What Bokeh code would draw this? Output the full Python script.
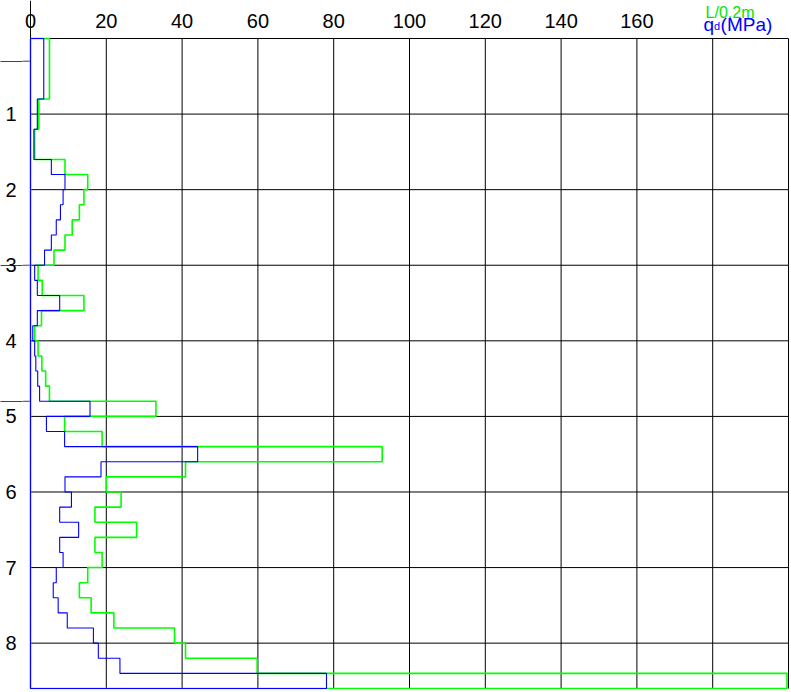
from bokeh.plotting import figure
from bokeh.models import FixedTicker, Range1d
from bokeh.core.properties import value
from bokeh.embed import file_html
from bokeh.resources import INLINE

# ---- data (0.2 m intervals from 0.0 m to 8.6 m) ----
interval = 0.2
max_depth = 8.6
blow_count = [5.0, 5.0, 5.0, 5.0, 2.2, 2.2, 1.1, 1.1, 9.1, 15.1,
              14.1, 12.9, 11.0, 9.1, 6.2, 2.0, 3.1, 14.1, 2.9, 1.1,
              2.0, 3.0, 4.0, 5.0, 33.1, 9.0, 18.9, 92.8, 40.9, 20.0,
              23.9, 17.0, 28.0, 17.0, 18.9, 15.1, 12.9, 16.0, 22.0, 38.0,
              40.9, 59.8, 199.6]
qd_mpa = [3.5, 3.5, 3.5, 3.5, 1.8, 1.8, 0.9, 0.9, 5.5, 9.1,
          8.6, 7.9, 6.8, 5.5, 3.7, 1.1, 1.8, 7.7, 1.8, 0.6,
          1.1, 1.4, 1.9, 2.4, 15.7, 4.2, 9.0, 44.1, 18.6, 9.1,
          10.8, 7.7, 12.7, 7.7, 8.6, 6.8, 6.0, 7.3, 9.7, 16.6,
          17.9, 23.6, 78.1]
layer_bounds = [0.3, 3.0, 4.8]
x_ticks = [0, 20, 40, 60, 80, 100, 120, 140, 160]
x_grid = [0, 20, 40, 60, 80, 100, 120, 140, 160, 180, 200]
y_ticks = [1, 2, 3, 4, 5, 6, 7, 8]
y_grid = [0, 1, 2, 3, 4, 5, 6, 7, 8]
x_max = 200


def step_outline(vals):
    xs, ys = [0.0], [0.0]
    for i, v in enumerate(vals):
        xs += [v, v]
        ys += [i * interval, (i + 1) * interval]
    xs += [0.0, 0.0]
    ys += [max_depth, 0.0]
    return xs, ys


W, H = 791, 692
FL, FR, FB = 22, 2, 3
LPAD = 8                        # pixels of frame left of x = 0
HEAD = 38                       # pixels of header area above depth 0
px_x = x_max / 758              # x units per pixel
px_y = max_depth / 650          # depth units per pixel

p = figure(width=W, height=H, output_backend="svg", toolbar_location=None,
           x_axis_location=None, y_axis_location="left",
           x_range=Range1d(-LPAD * px_x, x_max + 1 * px_x),
           y_range=Range1d(max_depth + 1 * px_y, -HEAD * px_y),
           min_border_left=FL, min_border_right=FR, min_border_top=0,
           min_border_bottom=FB)
p.background_fill_color = "white"
p.border_fill_color = "white"
p.outline_line_color = None
p.xgrid.visible = False
p.ygrid.visible = False

FONT = "Liberation Sans"

ya = p.yaxis[0]
ya.ticker = FixedTicker(ticks=y_ticks, minor_ticks=layer_bounds)
ya.axis_line_color = None
ya.major_tick_line_color = None
ya.major_tick_out = 0
ya.major_tick_in = 0
ya.minor_tick_in = 0
ya.minor_tick_out = FL
ya.minor_tick_line_color = "#444444"
ya.major_label_text_font = FONT
ya.major_label_text_font_size = "20px"
ya.major_label_text_color = "black"
ya.major_label_standoff = -16

# grid lines over the chart area
p.segment(x0=x_grid, y0=[0] * len(x_grid), x1=x_grid,
          y1=[max_depth] * len(x_grid), line_color="black", line_width=1)
p.segment(x0=[0] * len(y_grid), y0=y_grid, x1=[x_max] * len(y_grid),
          y1=y_grid, line_color="black", line_width=1)
# zero tick running up through the header
p.segment(x0=[0], y0=[-HEAD * px_y], x1=[0], y1=[0],
          line_color="black", line_width=1)
# layer boundary marks continuing to the left edge
p.segment(x0=[-LPAD * px_x] * len(layer_bounds), y0=layer_bounds,
          x1=[0] * len(layer_bounds), y1=layer_bounds,
          line_color="#444444", line_width=1)

# top scale labels
p.text(x=x_ticks, y=[-18 * px_y] * len(x_ticks), text=[str(t) for t in x_ticks],
       text_font=value(FONT), text_font_size="20px", text_color="black",
       text_align="center", text_baseline="alphabetic")

# series
gx, gy = step_outline(blow_count)
p.line(gx, gy, line_color="#00ff00", line_width=1.6)
bx, by = step_outline(qd_mpa)
p.line(bx, by, line_color="#0000ff", line_width=1.1)

# legend-like labels, top right
lx = 177.6
p.text(x=[lx], y=[-26 * px_y], text=["L/0.2m"], x_offset=2,
       text_font=value(FONT), text_font_size="16px", text_color="#00e600",
       text_align="left", text_baseline="alphabetic")
p.text(x=[lx], y=[-14 * px_y], text=["q"], x_offset=0,
       text_font=value(FONT), text_font_size="19px", text_color="#0000ff",
       text_align="left", text_baseline="alphabetic")
p.text(x=[lx], y=[-12.5 * px_y], text=["d"], x_offset=10.5,
       text_font=value(FONT), text_font_size="11px", text_color="#0000ff",
       text_align="left", text_baseline="alphabetic")
p.text(x=[lx], y=[-14 * px_y], text=["(MPa)"], x_offset=17,
       text_font=value(FONT), text_font_size="19px", text_color="#0000ff",
       text_align="left", text_baseline="alphabetic")

open("out.html", "w").write(file_html(p, INLINE))
